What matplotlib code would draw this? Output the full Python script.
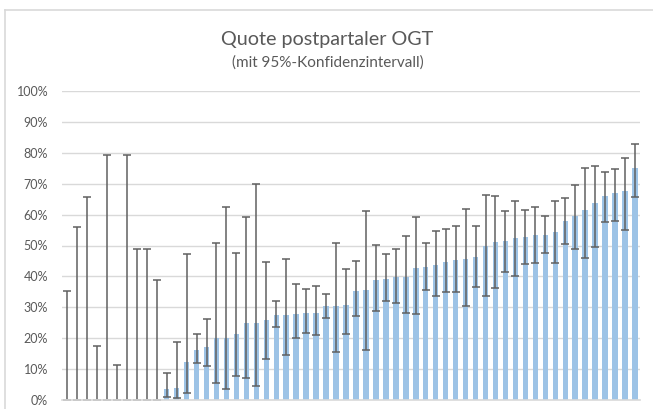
import matplotlib
matplotlib.use("Agg")
import matplotlib.pyplot as plt
from matplotlib.lines import Line2D
import numpy as np

# Data (percent)
rate = [0, 0, 0, 0, 0, 0, 0, 0, 0, 0,
        3.6, 3.8, 12.4, 16.2, 17.3, 20.1, 20.0, 21.4, 24.9, 24.9,
        25.9, 27.5, 27.5, 27.8, 28.2, 28.3, 30.3, 30.4, 30.9, 35.4,
        35.6, 38.8, 39.2, 39.7, 39.9, 42.7, 43.0, 43.8, 44.8, 45.3,
        45.6, 46.2, 49.9, 51.2, 51.5, 52.4, 52.8, 53.5, 53.5, 54.4,
        57.9, 59.7, 61.4, 63.8, 66.0, 66.9, 67.6, 75.1]
ci_upper = [35.4, 56.1, 65.7, 17.6, 79.2, 11.3, 79.2, 49.0, 49.0, 38.9,
            8.6, 18.9, 47.1, 21.3, 26.1, 50.9, 62.4, 47.6, 59.1, 69.8,
            44.7, 32.1, 45.6, 37.4, 36.0, 36.9, 34.3, 50.8, 42.5, 44.9,
            61.2, 50.1, 47.1, 49.0, 53.2, 59.1, 50.9, 54.6, 55.2, 56.4,
            61.8, 56.3, 66.3, 66.1, 61.3, 64.4, 61.5, 62.6, 59.7, 64.5,
            65.3, 69.6, 75.0, 75.8, 73.7, 74.9, 78.2, 82.8]
ci_lower = [0, 0, 0, 0, 0, 0, 0, 0, 0, 0,
            1.1, 0.5, 2.2, 12.1, 11.0, 5.6, 3.7, 7.7, 7.2, 4.6,
            13.2, 23.5, 14.7, 20.0, 21.6, 20.9, 26.6, 15.5, 21.5, 27.1,
            16.3, 28.8, 31.9, 31.3, 28.2, 27.9, 35.5, 33.7, 34.8, 34.8,
            30.4, 36.5, 33.5, 36.1, 41.5, 40.1, 44.0, 44.3, 47.6, 44.2,
            50.4, 48.9, 45.8, 49.5, 57.5, 57.8, 55.0, 65.6]
y_ticks = [0, 10, 20, 30, 40, 50, 60, 70, 80, 90, 100]
y_tick_labels = [f"{t}%" for t in y_ticks]
title = "Quote postpartaler OGT"
subtitle = "(mit 95%-Konfidenzintervall)"

plt.rcParams['font.family'] = ['Lato', 'DejaVu Sans']

W, H = 653, 409
fig = plt.figure(figsize=(W / 100, H / 100), dpi=100)
fig.patch.set_facecolor("white")

# chart-area border (top and left edges visible)
fig.add_artist(Line2D([5 / W, 1], [1 - 10 / H, 1 - 10 / H], color="#d9d9d9", lw=1.2,
                      transform=fig.transFigure))
fig.add_artist(Line2D([5 / W, 5 / W], [0, 1 - 10 / H], color="#d9d9d9", lw=1.2,
                      transform=fig.transFigure))

ax = fig.add_axes([62 / W, 9 / H, 578 / W, 309 / H])
x = np.arange(len(rate))
r = np.array(rate)
lo = r - np.array(ci_lower)
hi = np.array(ci_upper) - r
ax.bar(x, r, width=0.55, color="#9dc3e6", zorder=2)
ax.errorbar(x, r, yerr=[lo, hi], fmt="none", ecolor="#606060", elinewidth=1.1,
            capsize=3, capthick=1.1, zorder=3)

ax.set_xlim(-0.5, len(rate) - 0.5)
ax.set_ylim(0, 100)
ax.set_yticks(y_ticks)
ax.set_yticklabels(y_tick_labels)
ax.set_xticks([])
for s in ["top", "right", "left"]:
    ax.spines[s].set_visible(False)
ax.spines["bottom"].set_color("#d9d9d9")
ax.spines["bottom"].set_linewidth(1.2)
ax.spines["bottom"].set_zorder(4)
ax.yaxis.grid(True, color="#d9d9d9", lw=1.0, zorder=0)
ax.set_axisbelow(True)
ax.tick_params(axis="y", length=0, pad=10, labelsize=9, labelcolor="#595959")

fig.text(327 / W, 1 - 45 / H, title, ha="center", va="baseline", fontsize=14.2,
         color="#595959", fontweight="normal")
fig.text(328 / W, 1 - 67 / H, subtitle, ha="center", va="baseline", fontsize=11,
         color="#595959")

fig.savefig("out.png", dpi=100, facecolor="white")
